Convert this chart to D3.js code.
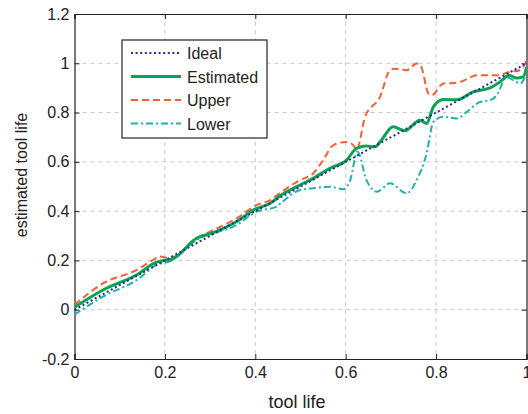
<!DOCTYPE html>
<html>
<head>
<meta charset="utf-8">
<script src="https://cdn.jsdelivr.net/npm/d3@7"></script>
<style>
  body { margin: 0; background: #fff; }
  text { font-family: "Liberation Sans", Arial, sans-serif; fill: #222; }
</style>
</head>
<body>
<script>
// chart size matches the browser window
var svgWidth = 528;
var svgHeight = 414;

var margin = { top: 14, right: 1.5, bottom: 55, left: 74.5 };
var width = svgWidth - margin.left - margin.right;
var height = svgHeight - margin.top - margin.bottom;

// tick values
var xTicks = [0, 0.2, 0.4, 0.6, 0.8, 1];
var yTicks = [-0.2, 0, 0.2, 0.4, 0.6, 0.8, 1, 1.2];

// series names for the legend
var seriesNames = ["Ideal", "Estimated", "Upper", "Lower"];

// [tool life, estimated tool life]
var ideal = [[0, 0], [1, 1]];

var estimated = [
  [0, 0.01], [0.064, 0.081], [0.138, 0.142], [0.178, 0.19], [0.204, 0.202],
  [0.215, 0.205], [0.27, 0.29], [0.307, 0.313], [0.359, 0.358], [0.396, 0.405],
  [0.433, 0.432], [0.455, 0.462], [0.499, 0.506], [0.528, 0.533], [0.565, 0.574],
  [0.602, 0.607], [0.624, 0.655], [0.646, 0.664], [0.665, 0.661], [0.676, 0.681],
  [0.705, 0.742], [0.731, 0.726], [0.764, 0.769], [0.779, 0.756], [0.794, 0.823],
  [0.816, 0.853], [0.846, 0.852], [0.882, 0.884], [0.919, 0.9], [0.941, 0.924],
  [0.962, 0.951], [0.978, 0.94], [0.993, 0.945], [1, 0.985]
];

var upper = [
  [0, 0.02], [0.064, 0.108], [0.138, 0.162], [0.174, 0.202], [0.189, 0.216],
  [0.211, 0.209], [0.27, 0.29], [0.3, 0.317], [0.359, 0.371], [0.403, 0.425],
  [0.433, 0.445], [0.455, 0.474], [0.499, 0.526], [0.528, 0.553], [0.55, 0.607],
  [0.573, 0.668], [0.602, 0.681], [0.618, 0.665], [0.624, 0.648], [0.643, 0.783],
  [0.676, 0.864], [0.698, 0.972], [0.709, 0.978], [0.735, 0.972], [0.757, 0.999],
  [0.766, 0.99], [0.783, 0.877], [0.79, 0.87], [0.816, 0.918], [0.838, 0.92],
  [0.853, 0.924], [0.89, 0.951], [0.934, 0.951], [0.963, 0.965], [0.986, 0.972],
  [1, 1.012]
];

var lower = [
  [0, -0.02], [0.064, 0.054], [0.138, 0.121], [0.182, 0.182], [0.211, 0.196],
  [0.27, 0.283], [0.359, 0.344], [0.403, 0.398], [0.447, 0.418], [0.455, 0.43],
  [0.499, 0.486], [0.528, 0.493], [0.565, 0.499], [0.595, 0.489], [0.61, 0.526],
  [0.626, 0.641], [0.646, 0.526], [0.669, 0.479], [0.698, 0.513], [0.735, 0.472],
  [0.757, 0.526], [0.779, 0.634], [0.794, 0.762], [0.816, 0.783], [0.846, 0.776],
  [0.868, 0.803], [0.897, 0.843], [0.919, 0.85], [0.934, 0.87], [0.956, 0.944],
  [0.971, 0.931], [0.986, 0.918], [1, 0.958]
];

var svg = d3.select("body")
  .append("svg")
  .attr("width", svgWidth)
  .attr("height", svgHeight);

var chartGroup = svg.append("g")
  .attr("transform", `translate(${margin.left}, ${margin.top})`);

var xScale = d3.scaleLinear().domain([0, 1]).range([0, width]);
var yScale = d3.scaleLinear().domain([-0.2, 1.2]).range([height, 0]);

// plain hyphen minus like the original
var fmt = d => d3.format("~g")(d).replace("\u2212", "-");

// dashed grid
chartGroup.append("g")
  .selectAll("line")
  .data(xTicks.slice(1, -1))
  .join("line")
  .attr("x1", d => xScale(d)).attr("x2", d => xScale(d))
  .attr("y1", 0).attr("y2", height)
  .attr("stroke", "#c8c8c8").attr("stroke-dasharray", "4,4");

chartGroup.append("g")
  .selectAll("line")
  .data(yTicks.slice(1, -1))
  .join("line")
  .attr("y1", d => yScale(d)).attr("y2", d => yScale(d))
  .attr("x1", 0).attr("x2", width)
  .attr("stroke", "#c8c8c8").attr("stroke-dasharray", "4,4");

// axes, ticks pointing inwards
var bottomAxis = d3.axisBottom(xScale).tickValues(xTicks).tickSize(-5).tickPadding(8).tickFormat(fmt);
var leftAxis = d3.axisLeft(yScale).tickValues(yTicks).tickSize(-5).tickPadding(5).tickFormat(fmt);
var topAxis = d3.axisTop(xScale).tickValues(xTicks).tickSize(-5).tickFormat("");
var rightAxis = d3.axisRight(yScale).tickValues(yTicks).tickSize(-5).tickFormat("");

chartGroup.append("g").attr("transform", `translate(0, ${height})`).call(bottomAxis);
chartGroup.append("g").call(leftAxis);
chartGroup.append("g").call(topAxis);
chartGroup.append("g").attr("transform", `translate(${width}, 0)`).call(rightAxis);

chartGroup.selectAll(".domain").attr("stroke", "#222").attr("stroke-width", 1.2);
chartGroup.selectAll(".tick line").attr("stroke", "#222");
chartGroup.selectAll(".tick text")
  .style("font-family", "'Liberation Sans', Arial, sans-serif")
  .style("font-size", "16px").attr("fill", "#222");

// clip the lines to the plot
chartGroup.append("clipPath").attr("id", "clip")
  .append("rect").attr("width", width).attr("height", height);

var line = d3.line()
  .x(d => xScale(d[0]))
  .y(d => yScale(d[1]))
  .curve(d3.curveMonotoneX);

var styles = [
  { data: ideal, color: "#2b2b96", w: 2, dash: "2,2.6" },
  { data: estimated, color: "#0aa34f", w: 3, dash: null },
  { data: upper, color: "#f2603a", w: 2, dash: "7,4" },
  { data: lower, color: "#20b2aa", w: 2, dash: "7,3,2,3" }
];

var lines = chartGroup.append("g").attr("clip-path", "url(#clip)");

[3, 2, 1, 0].forEach(function(i) {
  var s = styles[i];
  lines.append("path")
    .datum(s.data)
    .attr("d", line)
    .attr("fill", "none")
    .attr("stroke", s.color)
    .attr("stroke-width", s.w)
    .attr("stroke-dasharray", s.dash);
});

// legend
var legend = svg.append("g").attr("transform", "translate(122, 40)");
legend.append("rect")
  .attr("width", 145).attr("height", 98)
  .attr("fill", "#fff").attr("stroke", "#222").attr("stroke-width", 1.2);

seriesNames.forEach(function(name, i) {
  var s = styles[i];
  var y = 13 + i * 23.5;
  legend.append("line")
    .attr("x1", 9).attr("x2", 59).attr("y1", y).attr("y2", y)
    .attr("stroke", s.color).attr("stroke-width", s.w)
    .attr("stroke-dasharray", s.dash);
  legend.append("text")
    .attr("x", 65).attr("y", y + 6)
    .style("font-size", "16px")
    .text(name);
});

// axis labels
svg.append("text")
  .attr("transform", "rotate(-90)")
  .attr("x", -175)
  .attr("y", 27)
  .attr("text-anchor", "middle")
  .style("font-size", "16px")
  .text("estimated tool life");

svg.append("text")
  .attr("x", 297)
  .attr("y", 408)
  .attr("text-anchor", "middle")
  .style("font-size", "18px")
  .text("tool life");
</script>
</body>
</html>
